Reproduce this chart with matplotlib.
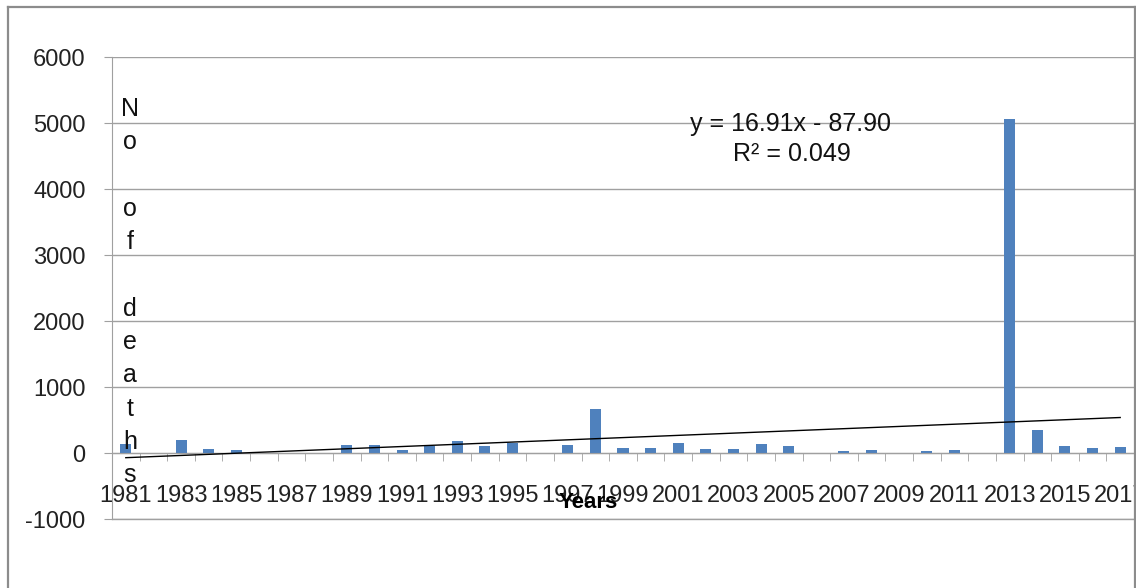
import matplotlib
matplotlib.use("Agg")
from matplotlib import pyplot as plt
from matplotlib.lines import Line2D
import numpy as np

plt.rcParams['font.family'] = ['Liberation Sans', 'DejaVu Sans']
plt.rcParams['axes.unicode_minus'] = False

# deaths per year
years = list(range(1981, 2018))
deaths = [130, 0, 200, 60, 45, 0, 0, 0, 125, 125, 45, 110, 177, 100, 146, 0,
          121, 662, 81, 81, 157, 60, 60, 141, 100, 0, 30, 45, 0, 25, 40, 0,
          5060, 356, 113, 72, 91]

# linear trend as reported
slope = 16.91
intercept = -87.90
r2 = 0.049

y_ticks = [-1000, 0, 1000, 2000, 3000, 4000, 5000, 6000]
ylabel_letters = ['N', 'o', '', 'o', 'f', '', 'd', 'e', 'a', 't', 'h', 's']

W, H = 1136, 588
fig = plt.figure(figsize=(W / 100, H / 100), dpi=100)
ax = fig.add_axes([112 / W, 1 - 519 / H, (1134 - 112) / W, (519 - 57) / H])

grid_c = '#a0a0a0'
idx = np.arange(len(years))

ax.bar(idx, deaths, width=0.4, color='#4f81bd', zorder=2)

x_trend = idx + 1
ax.plot(idx, slope * x_trend + intercept, color='black', lw=1.0, zorder=3)

ax.set_xlim(-0.5, len(years) - 0.5)
ax.set_ylim(y_ticks[0], y_ticks[-1])
ax.set_yticks(y_ticks)
ax.yaxis.grid(True, color=grid_c, lw=1.0, zorder=0)
ax.set_axisbelow(True)
# bottom gridline sits on the axes edge, draw it unclipped
ax.axhline(y_ticks[0], color=grid_c, lw=1.0, clip_on=False, zorder=0)

for s in ['top', 'right']:
    ax.spines[s].set_visible(False)
ax.spines['left'].set_color(grid_c)
ax.spines['bottom'].set_color(grid_c)
ax.spines['bottom'].set_position(('data', 0))

ax.set_xticks(idx[::2])
ax.set_xticklabels([str(y) for y in years[::2]])
ax.set_xticks(np.arange(0.5, len(years) - 0.5, 1), minor=True)
ax.tick_params(axis='x', which='major', length=0, pad=23, labelsize=17,
               labelcolor='#222222')
ax.tick_params(axis='x', which='minor', length=6, color=grid_c, direction='out')
ax.tick_params(axis='y', length=6, color=grid_c, pad=13, labelsize=17,
               labelcolor='#222222')

# stacked axis title
for i, ch in enumerate(ylabel_letters):
    fig.text(130 / W, 1 - (109 + 33.3 * i) / H, ch, fontsize=18,
             ha='center', va='center', color='#111111')

fig.text(588 / W, 1 - 503 / H, 'Years', fontsize=16, fontweight='bold',
         ha='center', va='center')

fig.text(791 / W, 1 - 124 / H, 'y = %.2fx - %.2f' % (slope, abs(intercept)),
         fontsize=18, ha='center', va='center', color='#111111')
fig.text(792 / W, 1 - 154 / H, 'R² = %.3f' % r2,
         fontsize=18, ha='center', va='center', color='#111111')

# outer chart border
frame_c = '#8c8c8c'
x0, x1, y0 = 8 / W, 1135 / W, 1 - 7 / H
fig.add_artist(Line2D([x0, x1], [y0, y0], color=frame_c, lw=1.6))
fig.add_artist(Line2D([x0, x0], [0, y0], color=frame_c, lw=1.6))
fig.add_artist(Line2D([x1, x1], [0, y0], color=frame_c, lw=1.6))

fig.savefig('out.png', dpi=100, facecolor='white')
